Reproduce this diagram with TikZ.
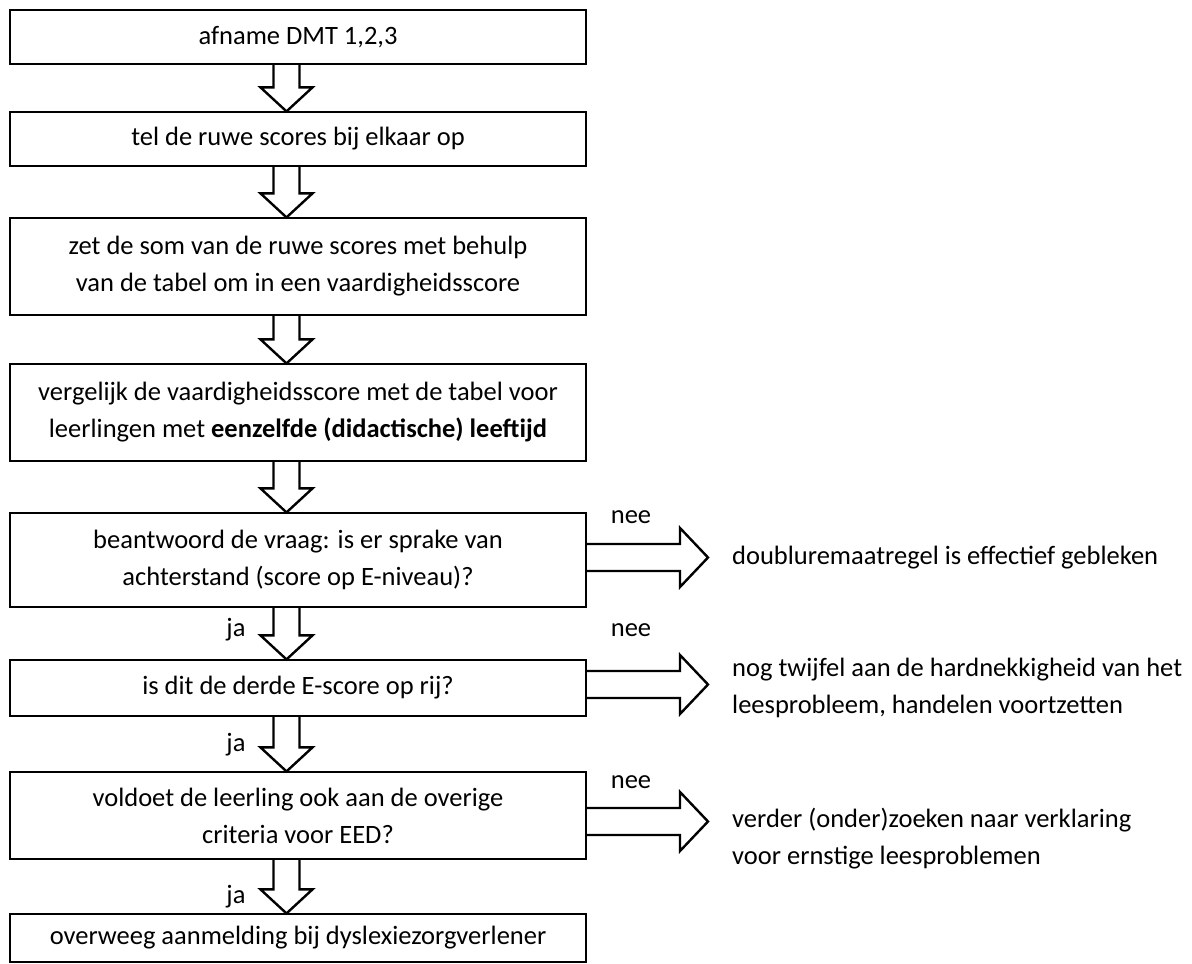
\documentclass[tikz,border=0pt]{standalone}
\usepackage{fontspec}
\setmainfont{Carlito}
\usetikzlibrary{calc}
\newcommand\fs{\fontsize{26.5}{37}\selectfont}
\newcommand\VArr[2]{\draw[blk] ($(#1.south -| ax)+(-13,0)$) -- ($(#2.north -| ax)+(-13,-24)$) -- ($(#2.north -| ax)+(-26,-24)$) -- (#2.north -| ax) -- ($(#2.north -| ax)+(26,-24)$) -- ($(#2.north -| ax)+(13,-24)$) -- ($(#1.south -| ax)+(13,0)$);}
\newcommand\HArr[2]{\draw[blk] ($(#1.east |- #2)+(0,-13.5)$) -- ($(#2)+(-28,-13.5)$) -- ($(#2)+(-28,-29.5)$) -- (#2) -- ($(#2)+(-28,29.5)$) -- ($(#2)+(-28,13.5)$) -- ($(#1.east |- #2)+(0,13.5)$);}
\begin{document}
\begin{tikzpicture}[x=1pt,y=-1pt,
  box/.style={draw, line width=1.2pt, minimum width=576pt, inner sep=0pt, align=center, font=\fs},
  blk/.style={draw, line width=2.4pt, line join=miter},
  lbl/.style={font=\fs, inner sep=0pt},
  side/.style={font=\fs, inner sep=0pt, anchor=west, align=left}]
\useasboundingbox (0,0) rectangle (1192,964);
\coordinate (ax) at (286.5,0);
\node[box, minimum height=54pt] (b1) at (298,37) {afname DMT 1,2,3};
\node[box, minimum height=54pt] (b2) at (298,139) {tel de ruwe scores bij elkaar op};
\node[box, minimum height=97pt] (b3) at (298,266.5) {zet de som van de ruwe scores met behulp\\van de tabel om in een vaardigheidsscore};
\node[box, minimum height=97pt] (b4) at (298,412.5) {vergelijk de vaardigheidsscore met de tabel voor\\leerlingen met \textbf{eenzelfde (didactische) leeftijd}};
\node[box, minimum height=94pt] (b5) at (298,560) {beantwoord de vraag: is er sprake van\\achterstand (score op E-niveau)?};
\node[box, minimum height=56pt] (b6) at (298,688) {is dit de derde E-score op rij?};
\node[box, minimum height=87pt] (b7) at (298,815.5) {\raisebox{-3pt}{\parbox{560pt}{\centering voldoet de leerling ook aan de overige\\criteria voor EED?}}};
\node[box, minimum height=48pt] (b8) at (298,938) {overweeg aanmelding bij dyslexiezorgverlener};
\VArr{b1}{b2}
\VArr{b2}{b3}
\VArr{b3}{b4}
\VArr{b4}{b5}
\VArr{b5}{b6}
\VArr{b6}{b7}
\VArr{b7}{b8}
\node[side] (t1) at (732,557.5) {doubluremaatregel is effectief gebleken};
\node[side] (t2) at (732,687.5) {nog twijfel aan de hardnekkigheid van het\\leesprobleem, handelen voortzetten};
\node[side] (t3) at (732,838.5) {verder (onder)zoeken naar verklaring\\voor ernstige leesproblemen};
\coordinate (r1) at (708,557.5);
\coordinate (r2) at (708,684.5);
\coordinate (r3) at (708,821.5);
\HArr{b5}{r1}
\HArr{b6}{r2}
\HArr{b7}{r3}
\node[lbl] (n1) at (631,517) {nee};
\node[lbl] (n2) at (631,630) {nee};
\node[lbl] (n3) at (631,782) {nee};
\node[lbl] (j1) at (236,630) {ja};
\node[lbl] (j2) at (236,745) {ja};
\node[lbl] (j3) at (236,897) {ja};
\end{tikzpicture}
\end{document}
